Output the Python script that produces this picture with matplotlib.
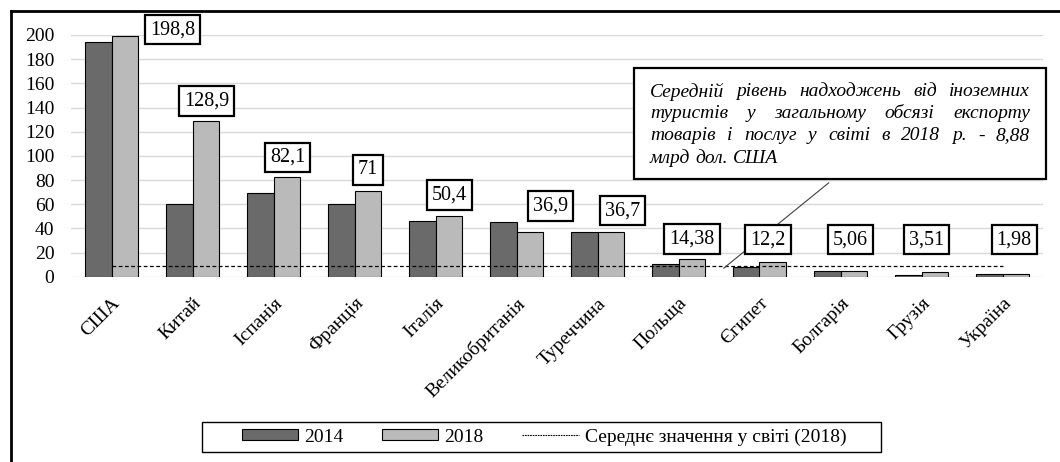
import matplotlib.pyplot as plt
import numpy as np
from matplotlib.lines import Line2D
from matplotlib.patches import Patch, Rectangle

plt.rcParams["font.family"] = ["Liberation Serif", "DejaVu Serif"]

# --- data ---
countries = ["США", "Китай", "Іспанія", "Франція", "Італія", "Великобританія",
             "Туреччина", "Польща", "Єгипет", "Болгарія", "Грузія", "Україна"]
values_2014 = [194.0, 60.5, 69.5, 60.3, 46.1, 45.2, 37.2, 10.8, 8.3, 4.7, 1.5, 2.5]
values_2018 = [198.8, 128.9, 82.1, 71.0, 50.4, 36.9, 36.7, 14.38, 12.2, 5.06, 3.51, 1.98]
world_mean_2018 = 8.88

note_lines = [
    "Середній рівень надходжень від іноземних",
    "туристів у загальному обсязі експорту",
    "товарів і послуг у світі в 2018 р. - 8,88",
    "млрд дол. США",
]

# label box placement (x shift from the 2018 bar, y in data units)
label_pos = [(0.59, 204.5), (0.01, 145.4), (0.01, 98.6), (0.0, 88.3), (0.01, 67.6),
             (0.25, 58.5), (0.14, 54.4), (0.0, 31.2), (-0.06, 30.4), (-0.04, 30.4),
             (-0.1, 30.4), (-0.02, 30.4)]

C14 = "#6a6a6a"
C18 = "#bababa"
FS = 14

W, H = 1060, 462
fig = plt.figure(figsize=(W / 100, H / 100), dpi=100)
ax = fig.add_axes([71 / W, 1 - 276.7 / H, 972 / W, 241.7 / H])

x = np.arange(len(countries))
bw = 0.33
ax.bar(x - bw / 2, values_2014, bw, color=C14, edgecolor="black", linewidth=0.8, zorder=2)
ax.bar(x + bw / 2, values_2018, bw, color=C18, edgecolor="black", linewidth=0.8, zorder=2)
ax.plot(x, [world_mean_2018] * len(x), color="black", lw=0.9, ls=(0, (3, 2)), zorder=3)

for i, v in enumerate(values_2018):
    dx, ly = label_pos[i]
    txt = f"{v:g}".replace(".", ",")
    ax.text(i + bw / 2 + dx, ly, txt, ha="center", va="center", fontsize=14.5,
            bbox=dict(boxstyle="square,pad=0.25", fc="white", ec="black", lw=1.6),
            zorder=5, clip_on=False)

ax.set_xlim(-0.5, len(countries) - 0.5)
ax.set_ylim(0, 200)
ax.set_yticks(np.arange(0, 201, 20))
ax.yaxis.grid(True, color="#d9d9d9", lw=1)
ax.set_axisbelow(True)
for s in ax.spines.values():
    s.set_visible(False)
ax.tick_params(axis="y", length=0, pad=12, labelsize=FS)
ax.tick_params(axis="x", length=0, pad=13)
ax.set_xticks(x)
ax.set_xticklabels(countries, rotation=45, ha="right", rotation_mode="anchor",
                   fontsize=FS)

# note box with justified text
bx0, by0, bx1, by1 = 634, 68, 1046, 179
fig.add_artist(Rectangle((bx0 / W, 1 - by1 / H), (bx1 - bx0) / W, (by1 - by0) / H,
                         transform=fig.transFigure, fc="white", ec="black", lw=1.6, zorder=6))
ax.annotate("", xy=(7.53, 5.5), xycoords="data", xytext=(831 / W, 1 - 181 / H),
            textcoords="figure fraction",
            arrowprops=dict(arrowstyle="-", color="#404040", lw=0.8), zorder=4)

renderer = fig.canvas.get_renderer()
tx0, tx1 = 650, 1030
line_y = [92, 114, 136, 158]
for k, line in enumerate(note_lines):
    words = line.split(" ")
    arts = [fig.text(0, 0, w, fontsize=FS, fontstyle="italic", ha="left", va="center",
                     zorder=7) for w in words]
    widths = [a.get_window_extent(renderer).width for a in arts]
    if k < len(note_lines) - 1 and len(words) > 1:
        gap = (tx1 - tx0 - sum(widths)) / (len(words) - 1)
    else:
        gap = renderer.points_to_pixels(FS) * 0.25
    cx = tx0
    for a, wd in zip(arts, widths):
        a.set_position((cx / W, 1 - line_y[k] / H))
        cx += wd + gap

# legend (frame drawn separately, wider than the entries)
handles = [Patch(fc=C14, ec="black", lw=0.8), Patch(fc=C18, ec="black", lw=0.8),
           Line2D([], [], color="black", lw=0.8, ls=(0, (1.5, 0.8)))]
fig.legend(handles, ["2014", "2018", "Середнє значення у світі (2018)"],
           loc="center", bbox_to_anchor=(544 / W, 1 - 437 / H), ncol=3,
           fontsize=FS, frameon=False,
           handlelength=2.9, handleheight=0.5, handletextpad=0.3,
           columnspacing=2.0, borderpad=0.35, borderaxespad=0)
fig.add_artist(Rectangle((202 / W, 1 - 452 / H), 679 / W, 30 / H,
                         transform=fig.transFigure, fc="none", ec="black", lw=1.0))

# outer frame (left and top edges)
fig.add_artist(Line2D([11 / W, 11 / W], [0, 1 - 11 / H], transform=fig.transFigure,
                      color="black", lw=2))
fig.add_artist(Line2D([11 / W, 1], [1 - 11 / H, 1 - 11 / H], transform=fig.transFigure,
                      color="black", lw=2))

fig.savefig("out.png", dpi=100)
